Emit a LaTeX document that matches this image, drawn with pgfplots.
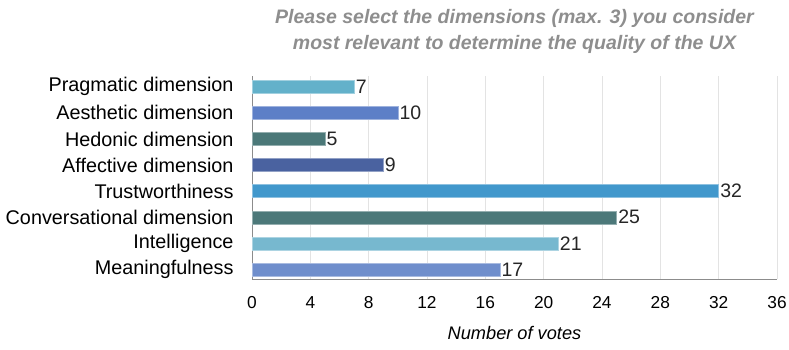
\documentclass[border=0pt]{standalone}
\usepackage{pgfplots}
\pgfplotsset{compat=1.18}
\usepackage{fontspec}
\setmainfont{Liberation Sans}
\definecolor{cA}{HTML}{63B1CA}
\definecolor{cB}{HTML}{5D7FC7}
\definecolor{cC}{HTML}{4B7878}
\definecolor{cD}{HTML}{4A62A0}
\definecolor{cE}{HTML}{4298CC}
\definecolor{cF}{HTML}{4C7879}
\definecolor{cG}{HTML}{77B8CF}
\definecolor{cH}{HTML}{6F8ECC}
\definecolor{titlegray}{HTML}{8E8E8E}
\begin{document}
\begin{tikzpicture}
\begin{axis}[
  at={(0,0)}, anchor=south west,
  scale only axis,
  width=525pt, height=203pt,
  xmin=0, xmax=36, ymin=-0.41, ymax=7.364,
  y dir=reverse,
  xtick={0,4,...,36},
  ytick={0,...,7},
  yticklabels={Pragmatic dimension,Aesthetic dimension,Hedonic dimension,Affective dimension,Trustworthiness,Conversational dimension,Intelligence,Meaningfulness},
  axis x line*=bottom, axis y line*=left,
  axis line style={draw=black!45, -},
  tick style={draw=none},
  xmajorgrids, grid style={draw=black!11, line width=0.6pt},
  /pgf/number format/assume math mode=true,
  yticklabel style={font=\fontsize{19.8}{23}\selectfont, inner sep=0pt, anchor=east, xshift=-14pt},
  xticklabel style={font=\fontsize{17.3}{20}\selectfont, inner sep=0pt, anchor=north, yshift=-17pt},
  xlabel={Number of votes},
  xlabel style={font=\fontsize{18.2}{21}\selectfont\itshape, at={(axis description cs:0.5,0)}, anchor=center, yshift=-54pt},
  title={Please select the dimensions (max. 3) you consider\\most relevant to determine the quality of the UX},
  title style={align=center, font=\fontsize{19.5}{26}\selectfont\bfseries\itshape, text=titlegray, at={(axis description cs:0.5,1)}, anchor=south, inner sep=0pt, yshift=16pt},
  xbar, bar width=13pt, bar shift=0pt,
  nodes near coords,
  every node near coord/.append style={font=\fontsize{19.5}{23}\selectfont, anchor=west, inner sep=1.5pt, text=black!85},
  clip=false,
]
\addplot[fill=cA, draw=cA!60!white] coordinates {(7,0)};
\addplot[fill=cB, draw=cB!60!white] coordinates {(10,1)};
\addplot[fill=cC, draw=cC!60!white] coordinates {(5,2)};
\addplot[fill=cD, draw=cD!60!white] coordinates {(9,3)};
\addplot[fill=cE, draw=cE!60!white] coordinates {(32,4)};
\addplot[fill=cF, draw=cF!60!white] coordinates {(25,5)};
\addplot[fill=cG, draw=cG!60!white] coordinates {(21,6)};
\addplot[fill=cH, draw=cH!60!white] coordinates {(17,7)};
\end{axis}
\pgfresetboundingbox
\path (-252pt,-70pt) rectangle (537pt,279pt);
\end{tikzpicture}
\end{document}
